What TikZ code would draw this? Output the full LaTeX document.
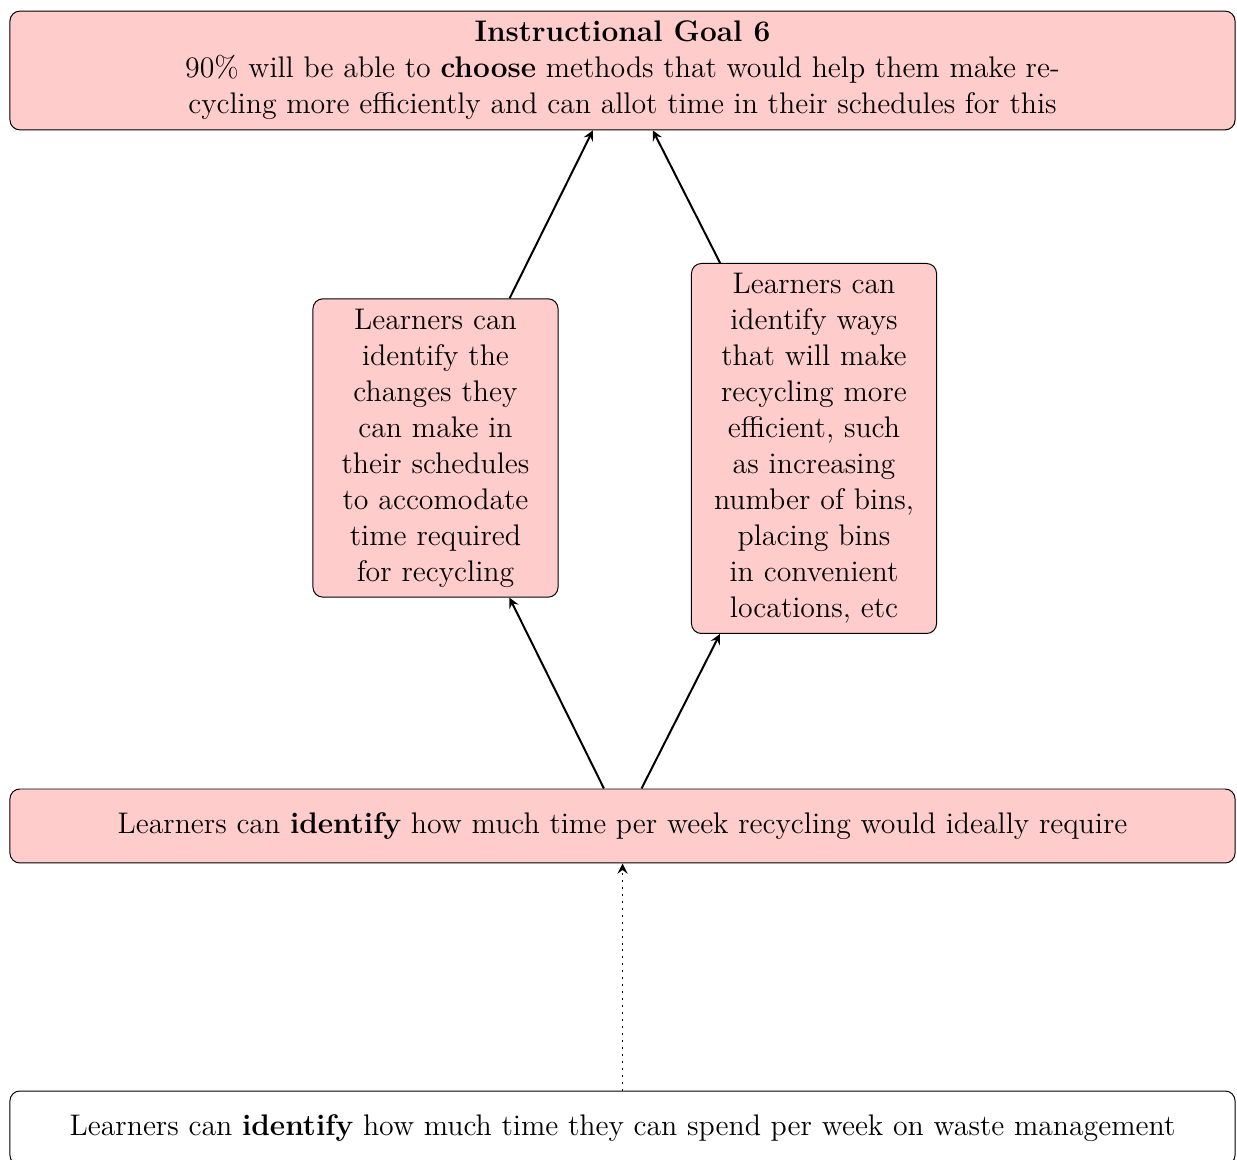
\documentclass[tikz,border=0pt]{standalone}
\begin{document}
\begin{tikzpicture}[x=0.40274pt, y=-0.40274pt, >=stealth,
  every node/.style={font=\fontsize{12}{14.5}\selectfont},
  goalbox/.style={draw, rounded corners=4pt, fill=red!20, align=center, inner sep=4pt},
  widebox/.style={goalbox, minimum width=493.4pt},
  narrowbox/.style={goalbox, text width=90.7pt},
  link/.style={->, thick}]
\useasboundingbox (0,0) rectangle (1237,1160);
\node[widebox, minimum height=47.1pt] (top) at (622.5,70.5)
  {\textbf{Instructional Goal 6}\\
   90\% will be able to \textbf{choose} methods that would help them make re-\\
   cycling more efficiently and can allot time in their schedules for this};
\node[narrowbox] (left) at (435.5,448)
  {Learners can\\ identify the\\ changes they\\ can make in\\ their schedules\\ to accomodate\\ time required\\ for recycling};
\node[narrowbox] (right) at (814,448.5)
  {Learners can\\ identify ways\\ that will make\\ recycling more\\ efficient, such\\ as increasing\\ number of bins,\\ placing bins\\ in convenient\\ locations, etc};
\node[widebox, minimum height=29.8pt] (mid) at (622.5,826)
  {Learners can \textbf{identify} how much time per week recycling would ideally require};
\node[widebox, minimum height=29.8pt, fill=white] (bot) at (622.5,1128)
  {Learners can \textbf{identify} how much time they can spend per week on waste management};
\draw[link] (mid) -- (left);
\draw[link] (mid) -- (right);
\draw[link] (left) -- (top);
\draw[link] (right) -- (top);
\draw[link, dotted] (bot) -- (mid);
\end{tikzpicture}
\end{document}
